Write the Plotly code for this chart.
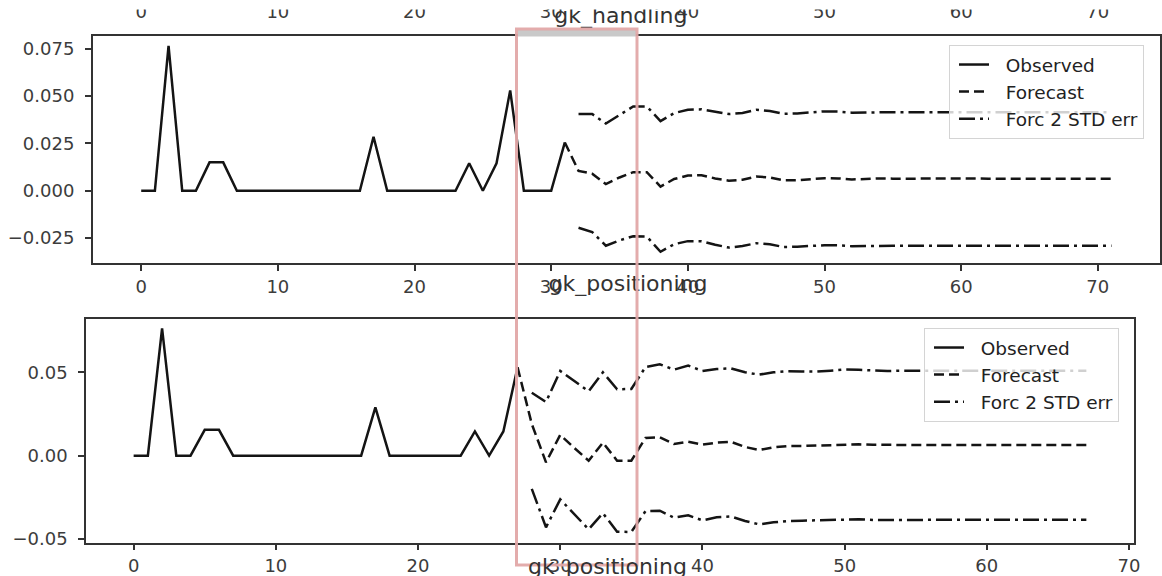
import plotly.graph_objects as go

# ---------------- data ----------------
top_obs_x = list(range(0, 32))
top_obs = [0, 0, 0.0765, 0, 0, 0.015, 0.015, 0, 0, 0, 0, 0, 0, 0, 0, 0, 0, 0.0285,
           0, 0, 0, 0, 0, 0, 0.0145, 0, 0.0145, 0.053, 0, 0, 0, 0.0255]

top_fc_x = list(range(31, 72))
top_fc = [0.0255, 0.0105, 0.0090, 0.0035, 0.0070, 0.0098, 0.0098, 0.0022, 0.0062, 0.0080,
          0.0082, 0.0065, 0.0053, 0.0058, 0.0075, 0.0070, 0.0055, 0.0056, 0.0061, 0.0066,
          0.0065, 0.0060, 0.0062, 0.0065, 0.0064, 0.0063, 0.0064, 0.0065, 0.0064, 0.0064,
          0.0064, 0.0064, 0.0064, 0.0064, 0.0064, 0.0064, 0.0064, 0.0064, 0.0064, 0.0064, 0.0064]

top_band_x = list(range(32, 72))
top_up = [0.0405, 0.0405, 0.0355, 0.0400, 0.0445, 0.0445, 0.0368, 0.0410, 0.0428, 0.0430,
          0.0416, 0.0405, 0.0410, 0.0427, 0.0421, 0.0406, 0.0408, 0.0414, 0.0419, 0.0418,
          0.0412, 0.0413, 0.0416, 0.0415, 0.0415, 0.0415, 0.0415, 0.0415, 0.0415, 0.0415,
          0.0415, 0.0415, 0.0415, 0.0415, 0.0415, 0.0415, 0.0415, 0.0415, 0.0415, 0.0415]
top_lo = [-0.0195, -0.0218, -0.0290, -0.0262, -0.0240, -0.0242, -0.0322, -0.0282, -0.0266, -0.0266,
          -0.0285, -0.0300, -0.0292, -0.0277, -0.0282, -0.0297, -0.0295, -0.0290, -0.0288, -0.0288,
          -0.0293, -0.0292, -0.0290, -0.0291, -0.0291, -0.0291, -0.0291, -0.0291, -0.0291, -0.0291,
          -0.0291, -0.0291, -0.0291, -0.0291, -0.0291, -0.0291, -0.0291, -0.0291, -0.0291, -0.0291]

bot_obs_x = list(range(0, 28))
bot_obs = [0, 0, 0.0764, 0, 0, 0.0155, 0.0155, 0, 0, 0, 0, 0, 0, 0, 0, 0, 0, 0.029,
           0, 0, 0, 0, 0, 0, 0.0145, 0, 0.0145, 0.053]

bot_fc_x = list(range(27, 68))
bot_fc = [0.053, 0.019, -0.004, 0.0125, 0.0045, -0.003, 0.0078, -0.003, -0.003, 0.0106,
          0.0110, 0.0070, 0.0083, 0.0066, 0.0078, 0.0083, 0.0052, 0.0034, 0.0050, 0.0057,
          0.0058, 0.0060, 0.0063, 0.0068, 0.0068, 0.0065, 0.0064, 0.0064, 0.0064, 0.0064,
          0.0064, 0.0064, 0.0064, 0.0064, 0.0064, 0.0064, 0.0064, 0.0064, 0.0064, 0.0064, 0.0064]

bot_band_x = list(range(28, 68))
bot_up = [0.0377, 0.0322, 0.0508, 0.0445, 0.0386, 0.0500, 0.0398, 0.0400, 0.0532, 0.0548,
          0.0516, 0.0540, 0.0508, 0.0520, 0.0524, 0.0500, 0.0486, 0.0500, 0.0507, 0.0505,
          0.0504, 0.0510, 0.0517, 0.0515, 0.0510, 0.0508, 0.0510, 0.0510, 0.0510, 0.0510,
          0.0510, 0.0510, 0.0510, 0.0510, 0.0510, 0.0510, 0.0510, 0.0510, 0.0510, 0.0510]
bot_lo = [-0.0199, -0.0430, -0.0262, -0.0352, -0.0442, -0.0345, -0.0456, -0.0458, -0.0332, -0.0330,
          -0.0372, -0.0358, -0.0388, -0.0370, -0.0365, -0.0392, -0.0412, -0.0400, -0.0392, -0.0390,
          -0.0388, -0.0385, -0.0380, -0.0382, -0.0386, -0.0385, -0.0385, -0.0385, -0.0385, -0.0385,
          -0.0385, -0.0385, -0.0385, -0.0385, -0.0385, -0.0385, -0.0385, -0.0385, -0.0385, -0.0385]

x_ticks = [0, 10, 20, 30, 40, 50, 60, 70]
top_y_ticks = [-0.025, 0.0, 0.025, 0.05, 0.075]
bot_y_ticks = [-0.05, 0.0, 0.05]
titles = ["gk_handling", "gk_positioning"]
legend_names = ["Observed", "Forecast", "Forc 2 STD err"]

# ---------------- layout helpers ----------------
W, H = 1162, 576
def px(p):
    return p / W
def py(p):
    return 1 - p / H

LC = "#141414"
LW = 2.5
DASH = "10px,5px"
DASHDOT = "16px,5px,3px,5px"
FONT = "DejaVu Sans"
GAP = "\u00a0\u00a0"  # visual gap between legend line and label

fig = go.Figure()

def add_panel(xa, ya, leg, ox, oy, fx, fy, bx, bup, blo):
    fig.add_trace(go.Scatter(x=ox, y=oy, mode="lines", name=GAP + legend_names[0],
                             line=dict(color=LC, width=LW), xaxis=xa, yaxis=ya, legend=leg))
    fig.add_trace(go.Scatter(x=fx, y=fy, mode="lines", name=GAP + legend_names[1],
                             line=dict(color=LC, width=LW, dash=DASH), xaxis=xa, yaxis=ya, legend=leg))
    fig.add_trace(go.Scatter(x=bx, y=bup, mode="lines", name=GAP + legend_names[2],
                             line=dict(color=LC, width=LW, dash=DASHDOT), xaxis=xa, yaxis=ya, legend=leg))
    fig.add_trace(go.Scatter(x=bx, y=blo, mode="lines", name=GAP + legend_names[2], showlegend=False,
                             line=dict(color=LC, width=LW, dash=DASHDOT), xaxis=xa, yaxis=ya, legend=leg))

add_panel("x", "y", "legend", top_obs_x, top_obs, top_fc_x, top_fc, top_band_x, top_up, top_lo)
add_panel("x2", "y2", "legend2", bot_obs_x, bot_obs, bot_fc_x, bot_fc, bot_band_x, bot_up, bot_lo)

# clipped text: tick labels of a panel above (cut at the top) + first title
fig.add_trace(go.Scatter(x=x_ticks, y=[13] * len(x_ticks), mode="text",
                         text=[str(v) for v in x_ticks], textposition="middle center",
                         textfont=dict(family=FONT, size=18, color="#3c3c3c"),
                         cliponaxis=True, showlegend=False, hoverinfo="skip",
                         xaxis="x3", yaxis="y3"))
fig.add_trace(go.Scatter(x=[35.1], y=[17.3], mode="text", text=[titles[0]],
                         textposition="middle center",
                         textfont=dict(family=FONT, size=22, color="#333"),
                         cliponaxis=True, showlegend=False, hoverinfo="skip",
                         xaxis="x3", yaxis="y3"))
# clipped middle title
fig.add_trace(go.Scatter(x=[628], y=[285.6], mode="text", text=[titles[1]],
                         textposition="middle center",
                         textfont=dict(family=FONT, size=22, color="#333"),
                         cliponaxis=True, showlegend=False, hoverinfo="skip",
                         xaxis="x4", yaxis="y4"))

axis_common = dict(showline=True, mirror=True, linecolor="#333", linewidth=1.5,
                   ticks="outside", ticklen=6, tickwidth=1.5, tickcolor="#333",
                   showgrid=False, zeroline=False, automargin=False,
                   tickfont=dict(family=FONT, size=18, color="#3c3c3c"))

legend_common = dict(xanchor="left", yanchor="top", indentation=4,
                     bgcolor="rgba(255,255,255,0.8)", bordercolor="#d4d4d4", borderwidth=1,
                     font=dict(family=FONT, size=18.5, color="#222"), tracegroupgap=0)

fig.update_layout(
    width=W, height=H, margin=dict(l=0, r=0, t=0, b=0, pad=0, autoexpand=False),
    paper_bgcolor="white", plot_bgcolor="white",
    xaxis=dict(domain=[px(92.7), px(1160)], range=[-3.55, 74.55], tickvals=x_ticks,
               anchor="y", **axis_common),
    yaxis=dict(domain=[py(263.3), py(36)], range=[-0.0383, 0.0817], tickvals=top_y_ticks,
               tickformat=".3f", anchor="x", ticklabelstandoff=7, **axis_common),
    xaxis2=dict(domain=[px(86), px(1134)], range=[-3.35, 70.35], tickvals=x_ticks,
                anchor="y2", **axis_common),
    yaxis2=dict(domain=[py(542.5), py(318.8)], range=[-0.0521, 0.0821], tickvals=bot_y_ticks,
                tickformat=".2f", anchor="x2", ticklabelstandoff=7, **axis_common),
    xaxis3=dict(domain=[px(92.7), px(1160)], range=[-3.55, 74.55], visible=False,
                anchor="y3", automargin=False),
    yaxis3=dict(domain=[py(36), py(9.5)], range=[36, 9.5], visible=False, anchor="x3",
                automargin=False),
    xaxis4=dict(domain=[0, 1], range=[0, W], visible=False, anchor="y4", automargin=False),
    yaxis4=dict(domain=[py(296), py(264)], range=[296, 264], visible=False, anchor="x4",
                automargin=False),
    legend=dict(x=px(949), y=py(45), **legend_common),
    legend2=dict(x=px(924), y=py(328), **legend_common),
    annotations=[dict(text=titles[1], xref="paper", yref="paper", x=px(607), y=py(567),
                      xanchor="center", yanchor="middle", showarrow=False,
                      font=dict(family=FONT, size=22, color="#333"))],
    shapes=[
        dict(type="rect", xref="paper", yref="paper", x0=px(518), x1=px(636), y0=py(36.5), y1=py(30),
             fillcolor="#c9c9c9", line=dict(width=0), layer="above"),
        dict(type="rect", xref="paper", yref="paper", x0=px(516.5), x1=px(637), y0=py(565), y1=py(29),
             line=dict(color="rgba(226,168,168,0.95)", width=3), fillcolor="rgba(0,0,0,0)", layer="above"),
    ],
)

fig.write_html("out.html", config={"displayModeBar": False},
               post_script="document.body.style.margin='0px';document.body.style.overflow='hidden';")
